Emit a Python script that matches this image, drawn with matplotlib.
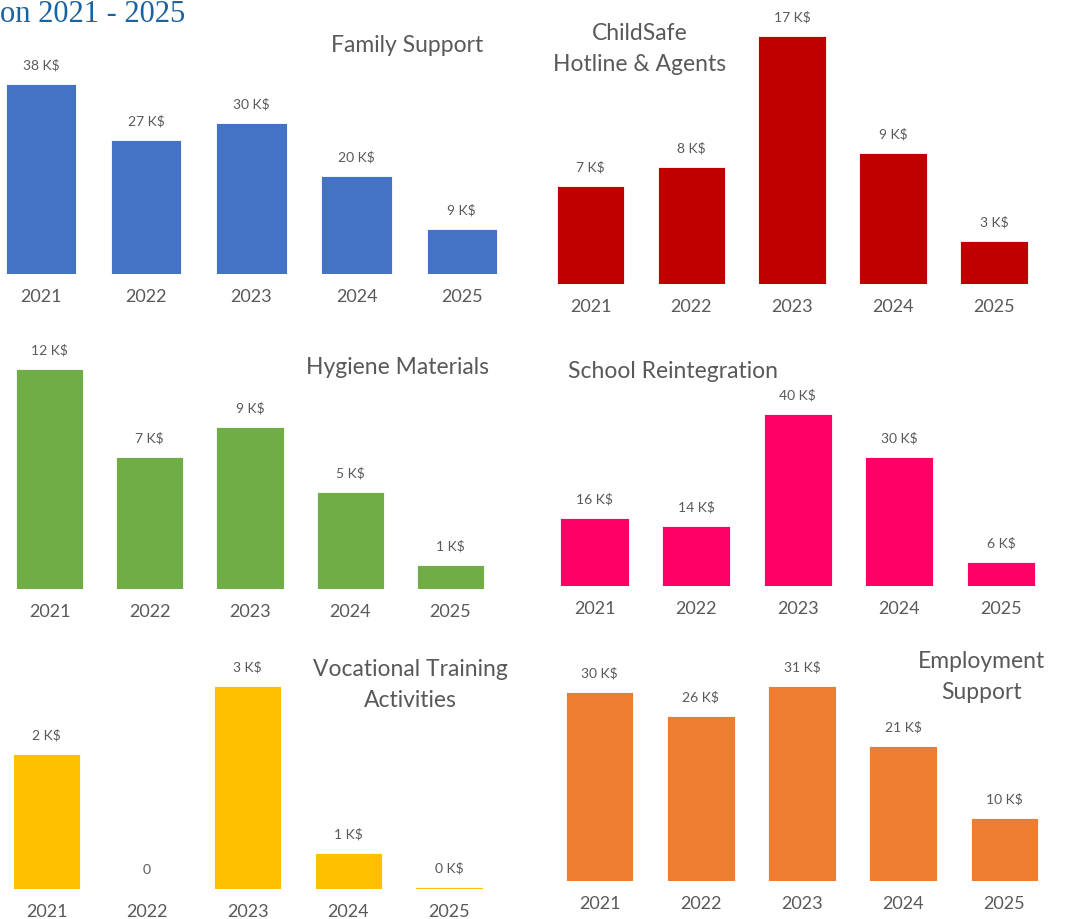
import matplotlib
matplotlib.use("Agg")
from matplotlib import pyplot as plt

years = ["2021", "2022", "2023", "2024", "2025"]

family_support = [38.0, 26.8, 30.2, 19.6, 9.0]
childsafe_hotline = [6.7, 8.0, 17.0, 9.0, 2.95]
hygiene_materials = [12.0, 7.2, 8.85, 5.3, 1.3]
school_reintegration = [15.8, 14.0, 40.0, 30.0, 5.6]
vocational_training = [2.0, 0.0, 3.0, 0.53, 0.03]
employment_support = [30.0, 26.2, 31.0, 21.4, 10.0]

W, H = 1068, 919
TXT = "#595959"
plt.rcParams["font.family"] = ["Lato", "DejaVu Sans"]

fig = plt.figure(figsize=(W / 100, H / 100), dpi=100)


def label(v):
    return "0" if v == 0 else "{:.0f} K$".format(v)


# panel geometry in pixels: first bar centre, bar pitch, baseline, px per K$, axes top
panels = [
    (family_support, "Family Support", "#4472C4", 41, 105.2, 274, 5.0, 30, (407, 45)),
    (childsafe_hotline, "ChildSafe\nHotline & Agents", "#C00000", 590.5, 100.9, 284, 14.6, 10, (640, 49)),
    (hygiene_materials, "Hygiene Materials", "#70AD47", 49.5, 100.25, 589, 18.3, 335, (398, 367)),
    (school_reintegration, "School Reintegration", "#FF0066", 594.5, 101.6, 586, 4.3, 350, (673, 372)),
    (vocational_training, "Vocational Training\nActivities", "#FFC000", 46.5, 100.6, 889, 67.7, 645, (410, 685)),
    (employment_support, "Employment\nSupport", "#ED7D31", 599.5, 101.25, 881, 6.29, 645, (982, 677)),
]

for vals, title, color, c0, pitch, base, ppu, top, tpos in panels:
    left = c0 - 0.5 * pitch
    width = 5 * pitch
    ax = fig.add_axes([left / W, (H - base) / H, width / W, (base - top) / H])
    x = range(len(years))
    bars = ax.bar(x, vals, width=0.67, color=color, edgecolor="white", linewidth=0.6)
    ax.set_xlim(-0.5, 4.5)
    ax.set_ylim(0, (base - top) / ppu)
    for b, v in zip(bars, vals):
        ax.annotate(label(v), (b.get_x() + b.get_width() / 2, b.get_height()),
                    xytext=(0, 9), textcoords="offset points", ha="center", va="bottom",
                    fontsize=10, color=TXT)
    ax.set_xticks(list(x))
    ax.set_xticklabels(years, fontsize=13, color=TXT)
    ax.tick_params(axis="x", length=0, pad=10.5)
    ax.set_yticks([])
    for s in ax.spines.values():
        s.set_visible(False)
    ax.patch.set_alpha(0)
    fig.text(tpos[0] / W, 1 - tpos[1] / H, title, ha="center", va="center",
             fontsize=16.5, color=TXT, linespacing=1.6)

fig.text(0, 1 - 22 / H, "on 2021 - 2025", ha="left", va="baseline",
         fontsize=22, color="#1a62a0", family=["Liberation Serif", "DejaVu Serif"])

fig.savefig("out.png", dpi=100)
